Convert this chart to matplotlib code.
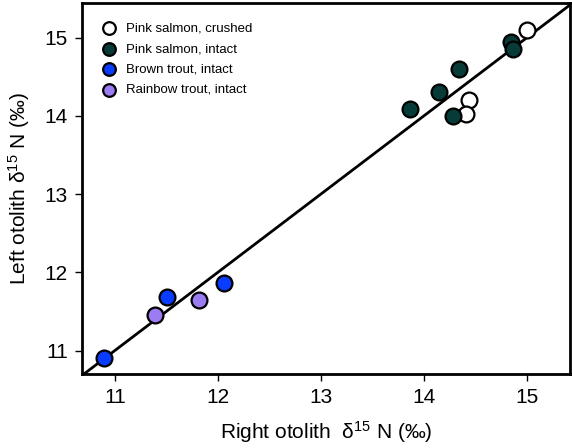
import numpy as np
import matplotlib
matplotlib.use("Agg")
import matplotlib.pyplot as plt

plt.rcParams['font.family'] = ['Liberation Sans', 'DejaVu Sans']

# right otolith (x) vs left otolith (y), d15N
crushed_x = [15.00, 14.44, 14.41]
crushed_y = [15.10, 14.20, 14.02]
intact_x = [13.86, 14.15, 14.34, 14.28, 14.84, 14.86]
intact_y = [14.09, 14.31, 14.60, 14.00, 14.94, 14.86]
brown_x = [10.90, 11.51, 12.06]
brown_y = [10.91, 11.68, 11.87]
rainbow_x = [11.39, 11.82]
rainbow_y = [11.45, 11.65]

ticks = [11, 12, 13, 14, 15]

fig = plt.figure(figsize=(5.72, 4.48), dpi=100)
ax = fig.add_axes([0.143, 0.165, 0.854, 0.828])

xlim = (10.68, 15.42)
ylim = (10.70, 15.44)
ax.plot([10.0, 16.0], [10.0, 16.0], color='black', lw=2, zorder=1)

kw = dict(s=130, edgecolors='black', linewidths=1.6, zorder=3)
ax.scatter(crushed_x, crushed_y, facecolors='white', label='Pink salmon, crushed', **kw)
ax.scatter(intact_x, intact_y, facecolors='#073b38', label='Pink salmon, intact', **kw)
ax.scatter(brown_x, brown_y, facecolors='#0a3cff', label='Brown trout, intact', **kw)
ax.scatter(rainbow_x, rainbow_y, facecolors='#9b7cf2', label='Rainbow trout, intact', **kw)

ax.set_xlim(xlim)
ax.set_ylim(ylim)
ax.set_xticks(ticks)
ax.set_yticks(ticks)
ax.tick_params(direction='out', length=5, width=1, labelsize=15, pad=5)
for s in ax.spines.values():
    s.set_linewidth(2)

ax.set_xlabel(r'Right otolith  $\mathregular{\delta^{15}}$ N (‰)', fontsize=15, labelpad=9)
ax.set_ylabel(r'Left otolith $\mathregular{\delta^{15}}$ N (‰)', fontsize=15, labelpad=9)

leg = ax.legend(loc='upper left', frameon=False, fontsize=9.5, handletextpad=0.25,
                markerscale=0.8, borderaxespad=0.0, labelspacing=0.62,
                bbox_to_anchor=(0.018, 0.962))

fig.savefig('out.png', dpi=100)
